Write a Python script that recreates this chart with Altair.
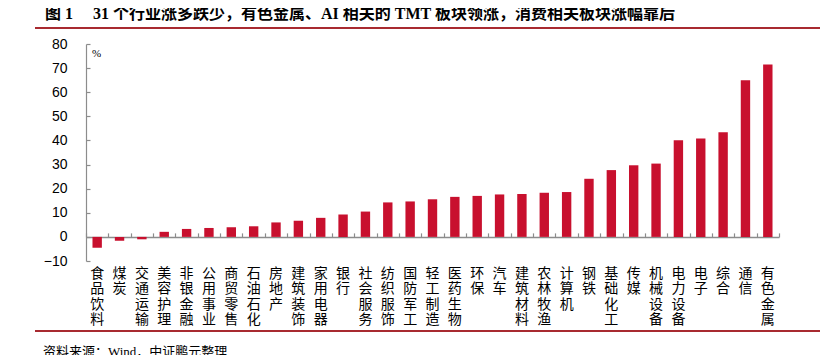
import altair as alt
import pandas as pd

categories = ["食品饮料", "煤炭", "交通运输", "美容护理", "非银金融", "公用事业", "商贸零售",
              "石油石化", "房地产", "建筑装饰", "家用电器", "银行", "社会服务", "纺织服饰",
              "国防军工", "轻工制造", "医药生物", "环保", "汽车", "建筑材料", "农林牧渔",
              "计算机", "钢铁", "基础化工", "传媒", "机械设备", "电力设备", "电子", "综合",
              "通信", "有色金属"]
values = [-4.5, -1.6, -1.0, 2.1, 3.3, 3.7, 4.0, 4.4, 6.0, 6.7, 7.9, 9.3, 10.5, 14.3,
          14.7, 15.6, 16.6, 17.0, 17.6, 17.8, 18.3, 18.6, 24.1, 27.7, 29.7, 30.4, 40.1,
          40.8, 43.4, 65.0, 71.5]
y_ticks = [-10, 0, 10, 20, 30, 40, 50, 60, 70, 80]
y_domain = [-10, 80]
title_text = "图 1\u2003 31 个行业涨多跌少，有色金属、AI 相关的 TMT 板块领涨，消费相关板块涨幅靠后"
source_text = "资料来源：Wind，中证鹏元整理"
unit_text = "%"

W, H = 693, 217
zero_offset = -H * (y_domain[1] - 0) / (y_domain[1] - y_domain[0])

df = pd.DataFrame({"cat": categories, "val": values})

xscale = alt.Scale(paddingInner=0, paddingOuter=0)
yscale = alt.Scale(domain=y_domain, nice=False, zero=False)
GRAY = "#8c8c8c"
BAR = "#c8102e"
LINE_RED = "#a82a30"

bars = alt.Chart(df).mark_bar(color=BAR, width=alt.RelativeBandSize(0.42)).encode(
    x=alt.X("cat:N", sort=None, scale=xscale,
            axis=alt.Axis(orient="top", offset=zero_offset, labels=False, title=None,
                          tickBand="extent", domainColor=GRAY, tickColor=GRAY,
                          tickSize=4, domainWidth=1.5, tickWidth=1.2)),
    y=alt.Y("val:Q", scale=yscale,
            axis=alt.Axis(orient="left", values=y_ticks, ticks=False, tickSize=0,
                          labelPadding=19, domainColor=GRAY, domainWidth=1.2, title=None,
                          grid=False, labelFontSize=14, labelFont="Liberation Sans",
                          labelColor="#000000")),
)

labels_layer = alt.Chart(df).mark_bar(opacity=0).encode(
    x=alt.X("cat:N", sort=None, scale=xscale,
            axis=alt.Axis(orient="bottom", domain=False, ticks=False, tickSize=0,
                          labelExpr="split(datum.label, '')", labelAngle=0,
                          labelBaseline="top", labelAlign="center", labelPadding=5,
                          labelFontSize=14, labelLineHeight=15.5,
                          labelFont="Noto Sans CJK SC", labelColor="#000000",
                          title=None, labelOverlap=False)),
    y=alt.Y("val:Q", scale=yscale,
            axis=alt.Axis(orient="right", offset=-W, values=y_ticks, labels=False,
                          domain=False, tickSize=4, tickColor=GRAY, tickWidth=1.2,
                          title=None, grid=False)),
)

deco_df = pd.DataFrame({"t": [title_text]})
title_mark = alt.Chart(deco_df).mark_text(
    align="left", baseline="alphabetic", fontSize=16, fontWeight="bold",
    font="Liberation Serif, Noto Sans CJK SC", color="#000000"
).encode(text="t:N", x=alt.value(-41), y=alt.value(-25.5))

src_df = pd.DataFrame({"t": [source_text]})
source_mark = alt.Chart(src_df).mark_text(
    align="left", baseline="alphabetic", fontSize=13,
    font="Liberation Serif, Noto Sans CJK SC", color="#000000"
).encode(text="t:N", x=alt.value(-43), y=alt.value(312))

unit_df = pd.DataFrame({"t": [unit_text]})
unit_mark = alt.Chart(unit_df).mark_text(
    align="left", baseline="alphabetic", fontSize=11,
    font="Liberation Serif", color="#000000"
).encode(text="t:N", x=alt.value(6), y=alt.value(13))

line_df = pd.DataFrame({"k": ["a"]})
top_line = alt.Chart(line_df).mark_rule(color=LINE_RED, strokeWidth=2).encode(
    x=alt.value(-51), x2=alt.value(734), y=alt.value(-16))
bottom_line = alt.Chart(line_df).mark_rule(color=LINE_RED, strokeWidth=2).encode(
    x=alt.value(-51), x2=alt.value(734), y=alt.value(287))

chart = alt.layer(
    bars, labels_layer, title_mark, source_mark, unit_mark, top_line, bottom_line
).resolve_axis(x="independent", y="independent").properties(
    width=W, height=H, autosize="none",
    padding={"left": 78, "top": 36, "right": 46, "bottom": 110},
).configure_view(stroke=None)

chart.save("out.html", embed_options={"renderer": "svg", "actions": False})
